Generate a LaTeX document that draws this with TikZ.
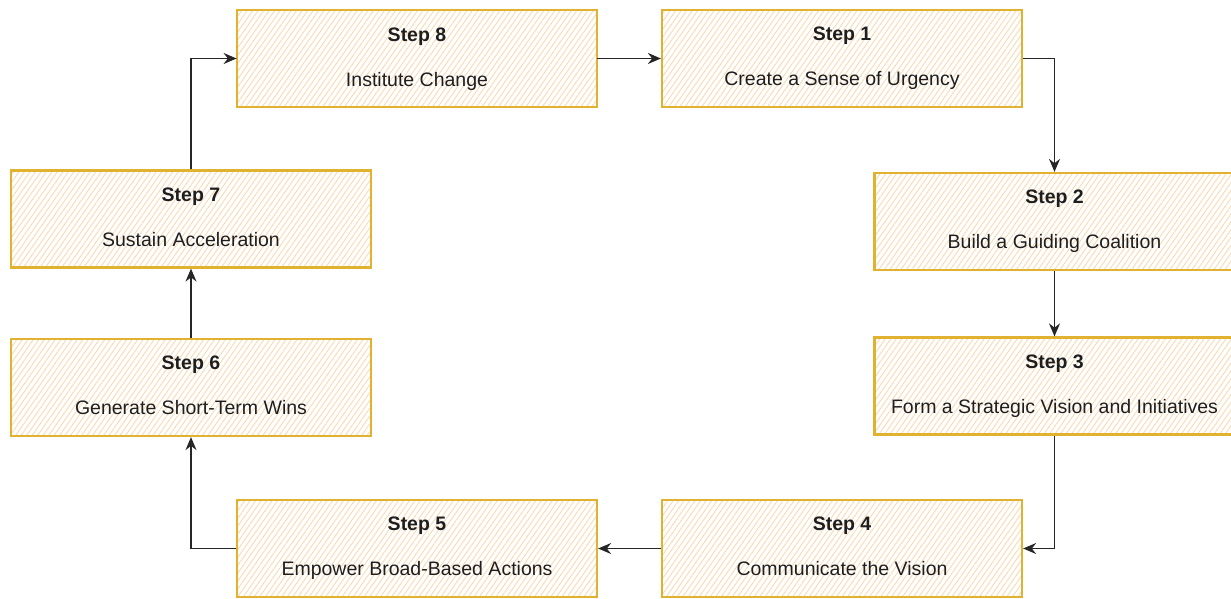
\documentclass[tikz,border=0pt]{standalone}
\usepackage{fontspec}
\setmainfont{Liberation Sans}
\usetikzlibrary{patterns.meta,arrows.meta}
\definecolor{boxstroke}{RGB}{224,178,48}
\definecolor{hatch}{RGB}{248,214,170}
\definecolor{txt}{RGB}{30,30,30}
\tikzset{
  stepbox/.style={draw=boxstroke, line width=2.2pt, minimum width=360pt, minimum height=97pt,
    inner sep=0pt, pattern={Lines[angle=55,distance=4.5pt,line width=0.8pt]}, pattern color=hatch},
  steptitle/.style={font=\fontsize{19.5}{22}\selectfont\bfseries, text=txt, anchor=base},
  steptext/.style={font=\fontsize{19.5}{22}\selectfont, text=txt, anchor=base},
  conn/.style={draw=black!85, line width=1.5pt, -{Stealth[length=13pt,width=11pt]}}
}
\newcommand{\stepnode}[5]{%
  \node[stepbox] (#1) at (#2,#3) {};
  \node[steptitle] (#1t) at ([yshift=-32pt]#1.north) {#4};
  \node[steptext] (#1d) at ([yshift=-77pt]#1.north) {#5};
}
\begin{document}
\begin{tikzpicture}[x=1pt,y=1pt]
\useasboundingbox (0,0) rectangle (1231,-599);
\stepnode{s8}{417}{-58.5}{Step 8}{Institute Change}
\stepnode{s1}{842}{-58.5}{Step 1}{Create a Sense of Urgency}
\stepnode{s2}{1054.5}{-221.5}{Step 2}{Build a Guiding Coalition}
\stepnode{s3}{1054.5}{-386}{Step 3}{Form a Strategic Vision and Initiatives}
\stepnode{s4}{842}{-548.5}{Step 4}{Communicate the Vision}
\stepnode{s5}{417}{-548.5}{Step 5}{Empower Broad-Based Actions}
\stepnode{s6}{191}{-387.5}{Step 6}{Generate Short-Term Wins}
\stepnode{s7}{191}{-219}{Step 7}{Sustain Acceleration}
\draw[conn] (s8.east) -- (s1.west);
\draw[conn] (s1.east) -| (s2.north);
\draw[conn] (s2.south) -- (s3.north);
\draw[conn] (s3.south) |- (s4.east);
\draw[conn] (s4.west) -- (s5.east);
\draw[conn] (s5.west) -| (s6.south);
\draw[conn] (s6.north) -- (s7.south);
\draw[conn] (s7.north) |- (s8.west);
\end{tikzpicture}
\end{document}
